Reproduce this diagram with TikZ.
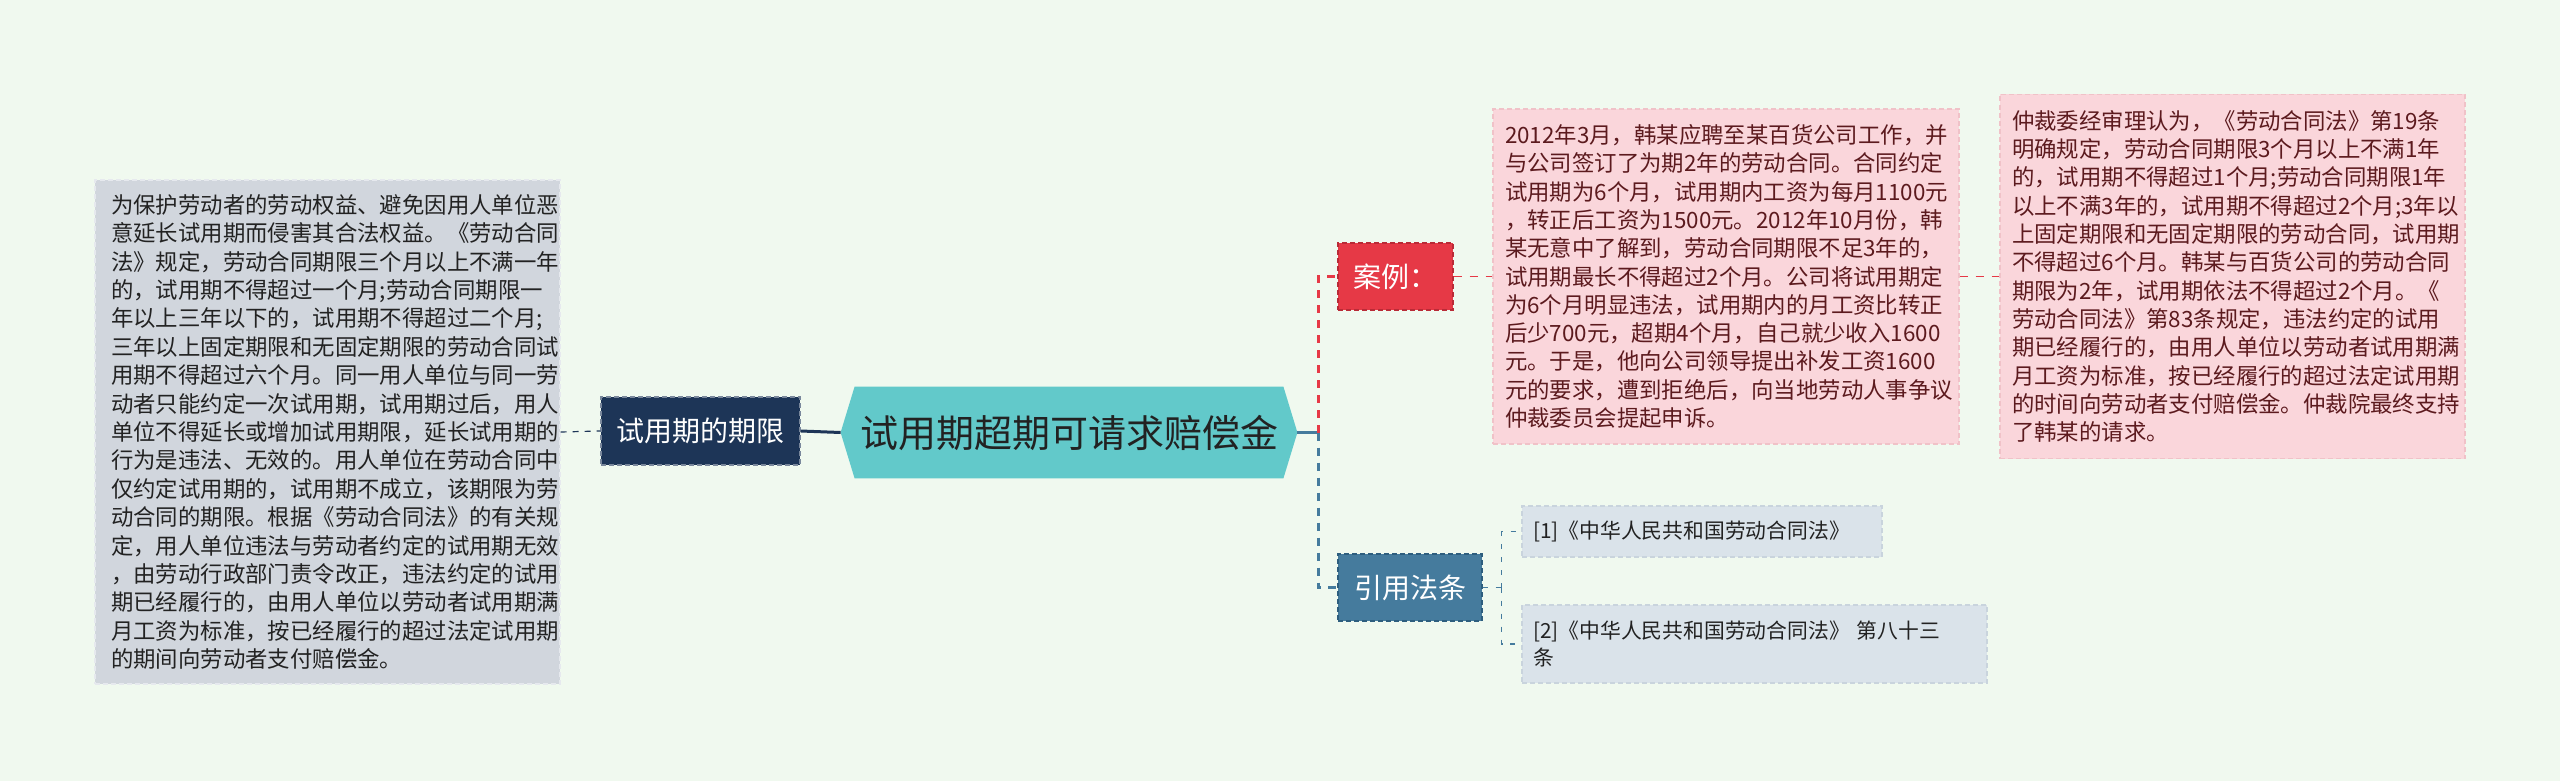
\documentclass[tikz,border=0pt]{standalone}
\usepackage{fontspec}
\setmainfont{Noto Sans CJK SC}
\usetikzlibrary{backgrounds}

\definecolor{paper}{HTML}{F0F9EF}
\definecolor{slate}{HTML}{D1D6DD}
\definecolor{slateedge}{HTML}{E6E9EE}
\definecolor{navy}{HTML}{1D3557}
\definecolor{navyedge}{HTML}{7A889C}
\definecolor{teal}{HTML}{62C9CA}
\definecolor{crimson}{HTML}{E63946}
\definecolor{crimsonedge}{HTML}{B92B37}
\definecolor{steel}{HTML}{457B9D}
\definecolor{steeledge}{HTML}{2E5E7E}
\definecolor{blush}{HTML}{FAD6DB}
\definecolor{blushedge}{HTML}{F0C2C8}
\definecolor{mist}{HTML}{DAE3EA}
\definecolor{mistedge}{HTML}{C9D4DD}
\definecolor{maroon}{HTML}{5C1A1E}
\definecolor{ink}{HTML}{222222}

\tikzset{
  box/.style={rectangle, line width=0.6pt, dash pattern=on 2.5pt off 1.5pt, inner ysep=0pt},
  notebox/.style={box, fill=slate, draw=slateedge, text=ink, align=left,
    font=\fontsize{11.2}{14.2}\selectfont},
  casebox/.style={box, fill=blush, draw=blushedge, text=maroon, align=left,
    font=\fontsize{11.2}{14.15}\selectfont},
  refitem/.style={box, fill=mist, draw=mistedge, text=ink, align=left,
    font=\fontsize{10.4}{13.5}\selectfont},
  tagbox/.style={box, text=white, font=\fontsize{14}{16}\selectfont, inner xsep=0pt},
  navydash/.style={navy, line width=0.6pt, dash pattern=on 3pt off 3pt},
  navyline/.style={navy, line width=1.5pt},
  trunk/.style={line width=1.6pt, dash pattern=on 4pt off 3.5pt},
  redlink/.style={crimson, line width=0.8pt, dash pattern=on 4pt off 4pt},
  bluelink/.style={steel, line width=0.6pt, dash pattern=on 2.5pt off 4pt}
}

\begin{document}
\begin{tikzpicture}[x=0.5pt,y=-0.5pt]
  %%%%% START %%%%%
  \useasboundingbox (0,0) rectangle (2560,781);

  % left branch
  \node[notebox, minimum width=232.5pt, minimum height=252pt, inner xsep=8pt, text width=216.5pt]
    (limitText) at (327.5,432) {为保护劳动者的劳动权益、避免因用人单位恶\\
    意延长试用期而侵害其合法权益。《劳动合同\\
    法》规定，劳动合同期限三个月以上不满一年\\
    的，试用期不得超过一个月;劳动合同期限一\\
    年以上三年以下的，试用期不得超过二个月;\\
    三年以上固定期限和无固定期限的劳动合同试\\
    用期不得超过六个月。同一用人单位与同一劳\\
    动者只能约定一次试用期，试用期过后，用人\\
    单位不得延长或增加试用期限，延长试用期的\\
    行为是违法、无效的。用人单位在劳动合同中\\
    仅约定试用期的，试用期不成立，该期限为劳\\
    动合同的期限。根据《劳动合同法》的有关规\\
    定，用人单位违法与劳动者约定的试用期无效\\
    ，由劳动行政部门责令改正，违法约定的试用\\
    期已经履行的，由用人单位以劳动者试用期满\\
    月工资为标准，按已经履行的超过法定试用期\\
    的期间向劳动者支付赔偿金。};
  \node[tagbox, fill=navy, draw=navyedge, minimum width=99.5pt, minimum height=34pt]
    (limit) at (700.5,431) {试用期的期限};

  % centre
  \node[minimum width=228pt, minimum height=45.5pt, inner sep=0pt, text=ink,
    font=\fontsize{19}{22}\selectfont] (root) at (1069,432.5) {试用期超期可请求赔偿金};

  % right branches
  \node[tagbox, fill=crimson, draw=crimsonedge, minimum width=57.5pt, minimum height=33.5pt]
    (case) at (1395.5,276.5) {案例：};
  \node[tagbox, fill=steel, draw=steeledge, minimum width=72pt, minimum height=33.5pt]
    (refs) at (1410,587.5) {引用法条};

  \node[casebox, minimum width=233pt, minimum height=167.5pt, inner xsep=6pt, text width=221pt]
    (caseText) at (1726,276.5) {2012年3月，韩某应聘至某百货公司工作，并\\
    与公司签订了为期2年的劳动合同。合同约定\\
    试用期为6个月，试用期内工资为每月1100元\\
    ，转正后工资为1500元。2012年10月份，韩\\
    某无意中了解到，劳动合同期限不足3年的，\\
    试用期最长不得超过2个月。公司将试用期定\\
    为6个月明显违法，试用期内的月工资比转正\\
    后少700元，超期4个月，自己就少收入1600\\
    元。于是，他向公司领导提出补发工资1600\\
    元的要求，遭到拒绝后，向当地劳动人事争议\\
    仲裁委员会提起申诉。};
  \node[casebox, minimum width=232.5pt, minimum height=182pt, inner xsep=6pt, text width=220.5pt]
    (ruling) at (2232.5,276.5) {仲裁委经审理认为，《劳动合同法》第19条\\
    明确规定，劳动合同期限3个月以上不满1年\\
    的，试用期不得超过1个月;劳动合同期限1年\\
    以上不满3年的，试用期不得超过2个月;3年以\\
    上固定期限和无固定期限的劳动合同，试用期\\
    不得超过6个月。韩某与百货公司的劳动合同\\
    期限为2年，试用期依法不得超过2个月。《\\
    劳动合同法》第83条规定，违法约定的试用\\
    期已经履行的，由用人单位以劳动者试用期满\\
    月工资为标准，按已经履行的超过法定试用期\\
    的时间向劳动者支付赔偿金。仲裁院最终支持\\
    了韩某的请求。};

  \node[refitem, minimum width=180pt, minimum height=25.5pt, inner xsep=5.5pt, text width=169pt]
    (ref1) at (1702,531.5) {[1]《中华人民共和国劳动合同法》};
  \node[refitem, minimum width=232.5pt, minimum height=39pt, inner xsep=5.5pt, text width=221.5pt]
    (ref2) at (1754.5,644) {[2]《中华人民共和国劳动合同法》 第八十三\\条};

  % connectors
  \draw[navydash] (limitText.east) -- (limit.west);
  \draw[navyline] (limit.east) -- (root.west);
  \coordinate (fork) at ([xshift=10.5pt]root.east);
  \draw[steel, line width=1.2pt] (root.east) -- (fork);
  \draw[trunk, crimson] (fork) |- (case.west);
  \draw[trunk, steel] (fork) |- (refs.west);
  \draw[redlink] (case.east) -- (caseText.west);
  \draw[redlink] (caseText.east) -- (ruling.west);
  \coordinate (refFork) at ([xshift=9.5pt]refs.east);
  \draw[bluelink] (refs.east) -- (refFork);
  \draw[bluelink] (refFork) |- (ref1.west);
  \draw[bluelink] (refFork) |- (ref2.west);

  \begin{scope}[on background layer]
    \fill[paper] (0,0) rectangle (2560,781);
    \fill[teal] (root.west) -- ([xshift=7pt]root.north west) -- ([xshift=-7pt]root.north east)
      -- (root.east) -- ([xshift=-7pt]root.south east) -- ([xshift=7pt]root.south west) -- cycle;
  \end{scope}
  %%%%% END %%%%%
\end{tikzpicture}
\end{document}
